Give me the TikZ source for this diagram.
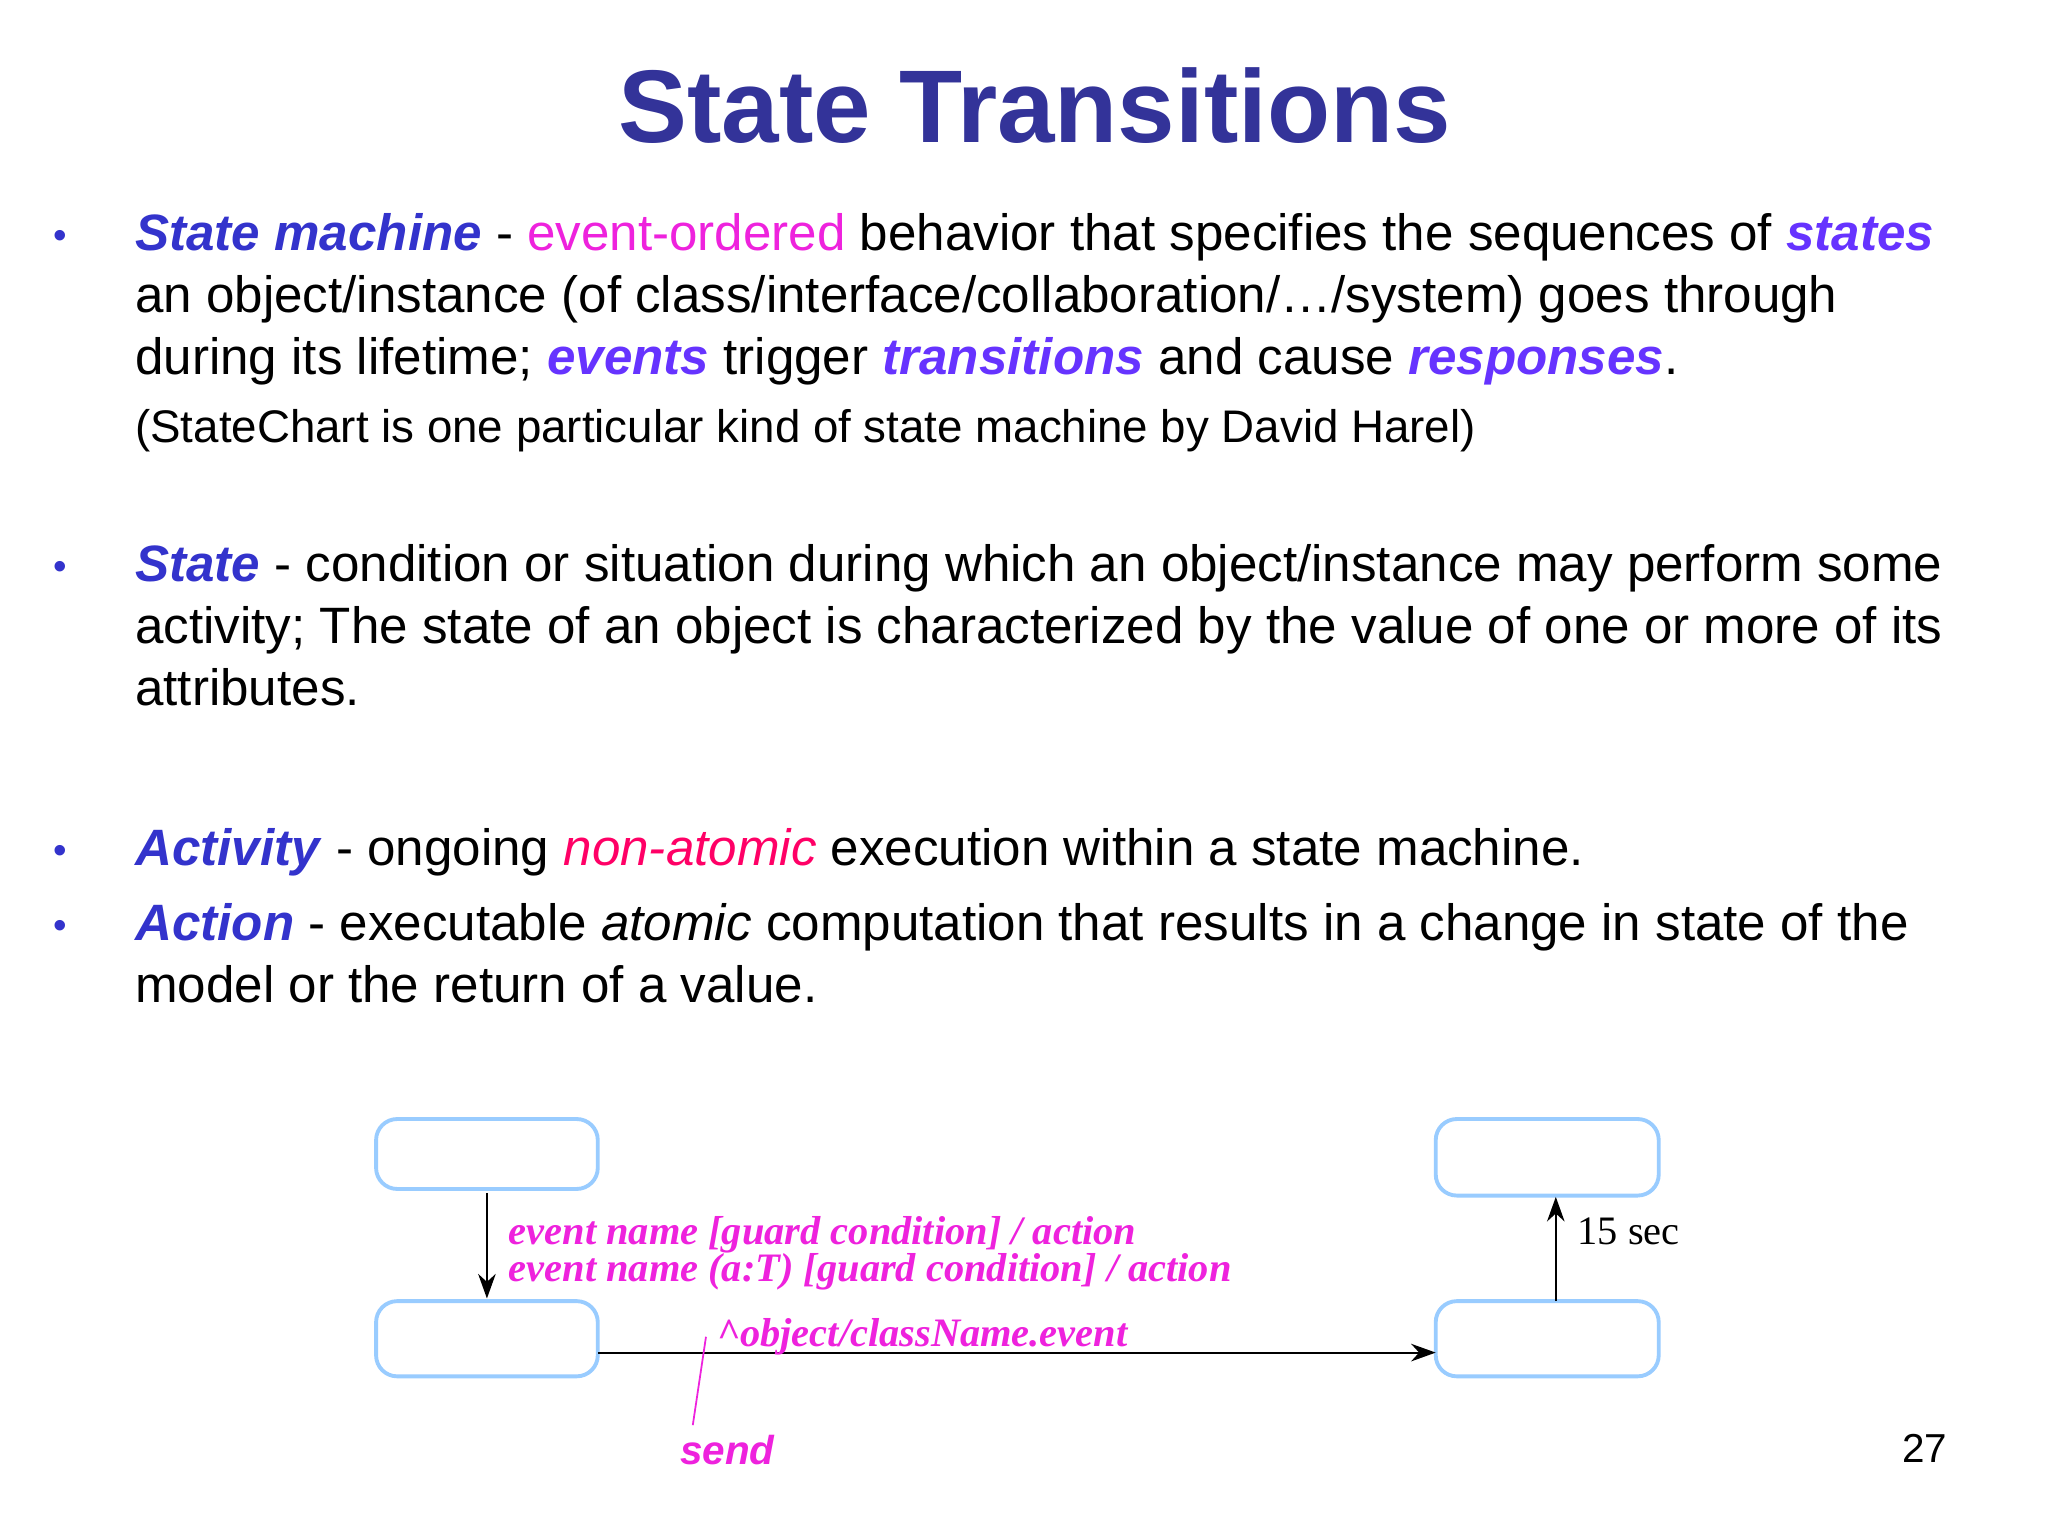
\documentclass[tikz,border=0pt]{standalone}
\usepackage{fontspec}
\setmainfont{Liberation Sans}
\newfontfamily\tnr{Liberation Serif}
\usetikzlibrary{arrows.meta}
\definecolor{navy}{HTML}{333399}
\definecolor{kw}{HTML}{3333CC}
\definecolor{vio}{HTML}{6633FF}
\definecolor{mag}{HTML}{EE22DD}
\definecolor{crim}{HTML}{FF0066}
\definecolor{lb}{HTML}{99CCFF}
\newcommand{\K}[1]{\textcolor{kw}{\textbf{\textit{#1}}}}
\newcommand{\V}[1]{\textcolor{vio}{\textbf{\textit{#1}}}}
\tikzset{
  ln/.style={anchor=base west,inner sep=0pt,font=\fontsize{14.55}{17}\selectfont},
  sm/.style={anchor=base west,inner sep=0pt,font=\fontsize{13}{15}\selectfont},
  bul/.style={anchor=base west,inner sep=0pt,text=kw,font=\fontsize{11}{13}\selectfont},
  st/.style={draw=lb,line width=1.1pt,rounded corners=6pt,fill=white},
  dl/.style={anchor=base west,inner sep=0pt,text=mag,font=\tnr\fontsize{11.5}{13}\selectfont\bfseries\itshape},
  ar/.style={-{Stealth[length=7pt,width=5pt]},line width=0.6pt}
}
\begin{document}
\begin{tikzpicture}[x=0.013196cm,y=-0.013196cm]
\fill[white] (0,0) rectangle (1552,1164);
\node[anchor=base,inner sep=0pt,text=navy,font=\fontsize{29.4}{34}\selectfont\bfseries] (title) at (784,108) {State Transitions};
\node[bul] (b1) at (40,188) {•};
\node[ln] (l1) at (102,190) {\K{State machine} - \textcolor{mag}{event-ordered} behavior that specifies the sequences of \V{states}};
\node[ln] (l2) at (102,237) {an object/instance (of class/interface/collaboration/…/system) goes through};
\node[ln] (l3) at (102,284) {during its lifetime; \V{events} trigger \V{transitions} and cause \V{responses}.};
\node[sm] (l4) at (102,335) {(StateChart is one particular kind of state machine by David Harel)};
\node[bul] (b2) at (40,439) {•};
\node[ln] (l5) at (102,441) {\K{State} - condition or situation during which an object/instance may perform some};
\node[ln] (l6) at (102,488) {activity; The state of an object is characterized by the value of one or more of its};
\node[ln] (l7) at (102,535) {attributes.};
\node[bul] (b3) at (40,654) {•};
\node[ln] (l8) at (102,656) {\K{Activity} - ongoing \textcolor{crim}{\textit{non-atomic}} execution within a state machine.};
\node[bul] (b4) at (40,711) {•};
\node[ln] (l9) at (102,713) {\K{Action} - executable \textit{atomic} computation that results in a change in state of the};
\node[ln] (l10) at (102,760) {model or the return of a value.};
% diagram
\path[st] (285,848) rectangle (453,901); \coordinate (A) at (369,904);
\path[st] (285,986) rectangle (453,1043); \coordinate (Bt) at (369,984);
\path[st] (1088,848) rectangle (1257,906); \coordinate (Cb) at (1179,907);
\path[st] (1088,986) rectangle (1257,1043); \coordinate (Dt) at (1179,986);
\coordinate (Br) at (453,1025); \coordinate (Dl) at (1088,1025);
\draw[ar] (A) -- (Bt);
\draw[ar] (Br) -- (Dl);
\draw[ar] (Dt) -- (Cb);
\node[dl] (e1) at (385,943) {event name [guard condition] / action};
\node[dl] (e2) at (385,971) {event name (a:T) [guard condition] / action};
\node[dl] (e3) at (543,1020) {\^{}object/className.event};
\node[anchor=base west,inner sep=0pt,font=\tnr\fontsize{11.5}{13}\selectfont] (t15) at (1195,943) {15 sec};
\coordinate (s1) at (535,1013); \coordinate (s2) at (525,1080);
\draw[mag,line width=0.5pt] (s1) -- (s2);
\node[anchor=base west,inner sep=0pt,font=\fontsize{11.5}{13}\selectfont\bfseries\itshape,text=mag] (send) at (515,1110) {send};
\node[anchor=base west,inner sep=0pt,font=\fontsize{11.5}{13}\selectfont] (pg) at (1441,1108) {27};
\end{tikzpicture}
\end{document}
